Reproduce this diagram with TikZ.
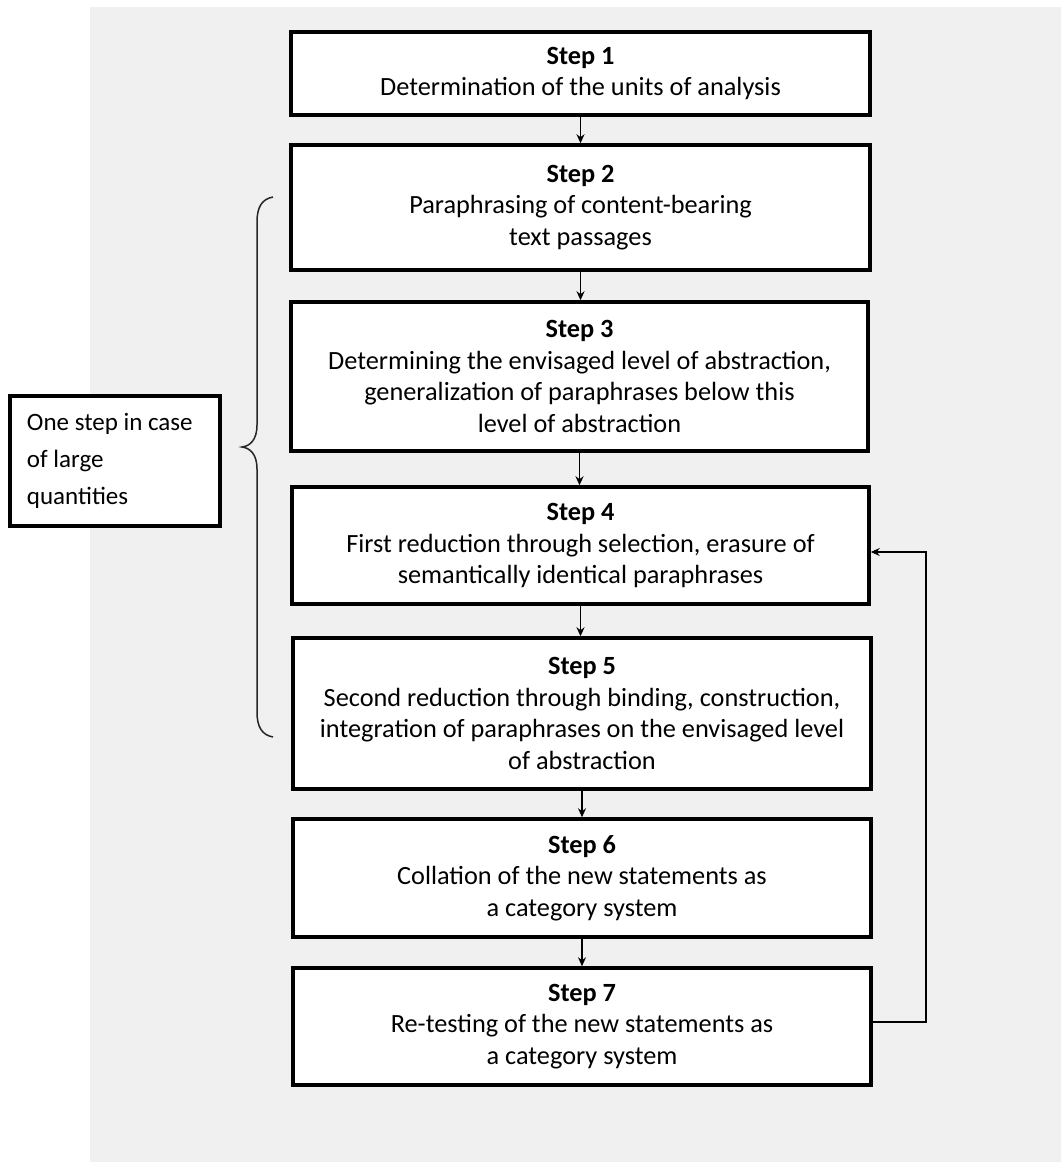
\documentclass[tikz,border=0pt]{standalone}
\usepackage{fontspec}
\setmainfont{Carlito}
\usetikzlibrary{arrows.meta,calc}

\tikzset{
  stepbox/.style={draw=black, line width=3.5pt, fill=white, align=center,
    inner sep=0pt, font=\fontsize{26.3}{31.5}\selectfont},
  flow/.style={draw=black, line width=1.6pt, -{Stealth[length=9pt,width=8pt]}},
  note/.style={draw=black, line width=3.5pt, fill=white, align=flush left,
    inner sep=0pt, minimum width=210pt, minimum height=130pt,
    text width=176pt, font=\fontsize{25}{37}\selectfont},
}

\begin{document}
\begin{tikzpicture}[x=1pt,y=-1pt]
  % page and grey panel
  \fill[white] (0,0) rectangle (1061,1162);
  \fill[black!6] (90,7) rectangle (1061,1162);
  \useasboundingbox (0,0) rectangle (1061,1162);

  % process steps
  \node[stepbox, minimum width=579pt, minimum height=83pt] (s1) at (580.5,73.5)
    {\raisebox{-3pt}{\textbf{Step 1}}\\\raisebox{-3pt}{Determination of the units of analysis}};
  \node[stepbox, minimum width=579pt, minimum height=125pt] (s2) at (580.5,207.5)
    {\textbf{Step 2}\\Paraphrasing of content-bearing\\text passages};
  \node[stepbox, minimum width=577pt, minimum height=149pt] (s3) at (579.5,376.5)
    {\textbf{Step 3}\\Determining the envisaged level of abstraction,\\generalization of paraphrases below this\\level of abstraction};
  \node[stepbox, minimum width=577pt, minimum height=117pt] (s4) at (580.5,545.5)
    {\textbf{Step 4}\\First reduction through selection, erasure of\\semantically identical paraphrases};
  \node[stepbox, minimum width=578pt, minimum height=151pt] (s5) at (582,713.5)
    {\textbf{Step 5}\\Second reduction through binding, construction,\\integration of paraphrases on the envisaged level\\of abstraction};
  \node[stepbox, minimum width=578pt, minimum height=118pt] (s6) at (582,878)
    {\textbf{Step 6}\\Collation of the new statements as\\a category system};
  \node[stepbox, minimum width=578pt, minimum height=117pt] (s7) at (582,1026.5)
    {\textbf{Step 7}\\Re-testing of the new statements as\\a category system};

  % side note
  \node[note] (nt) at (115,461)
    {One step in case\\of large\\quantities};

  % connectors between steps
  \draw[flow] (s1.south) -- (s1.south |- s2.north);
  \draw[flow] (s2.south) -- (s2.south |- s3.north);
  \draw[flow] (s3.south) -- (s3.south |- s4.north);
  \draw[flow] (s4.south) -- (s4.south |- s5.north);
  \draw[flow] (s5.south) -- (s5.south |- s6.north);
  \draw[flow] (s6.south) -- (s6.south |- s7.north);

  % feedback loop from step 7 back to step 4
  \coordinate (fb) at (926,1022);
  \draw[flow, line width=1.3pt] ([yshift=4.5pt]s7.east) -- (fb) |- ([yshift=-6.5pt]s4.east);

  % curly brace spanning steps 2 to 5
  \draw[black!85, line width=1.5pt]
    (273,197) .. controls (262,199) and (257,207) .. (257,222)
    -- (257,425) .. controls (257,440) and (250,446) .. (242,447)
    .. controls (250,448) and (257,454) .. (257,469)
    -- (257,712) .. controls (257,727) and (262,735) .. (273,737);
\end{tikzpicture}
\end{document}
